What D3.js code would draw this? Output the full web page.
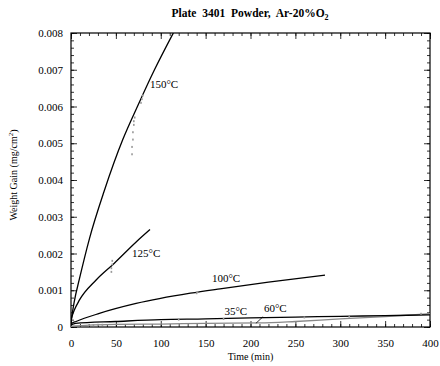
<!DOCTYPE html>
<html>
<head>
<meta charset="utf-8">
<script src="https://cdn.jsdelivr.net/npm/d3@7"></script>
<style>
  body{margin:0;background:#fff;}
  text{font-family:"Liberation Serif","DejaVu Serif",serif;fill:#000;}
</style>
</head>
<body>
<div id="chart-area"></div>
<script>
// fitted curves (time in min, weight gain in mg/cm2)
const c150=[[0,0.0001],[1,0.0003],[3.7,0.0007],[9.3,0.0013],[20.5,0.0024],[37,0.0037],[57.7,0.0051],[74,0.006],[93,0.007],[114,0.008]];
const c125=[[0,0.0002],[1,0.00028],[3.7,0.00046],[9.3,0.00073],[28,0.00128],[48,0.00173],[72,0.0023],[88,0.00265]];
const c100=[[0,0.00005],[1,0.0001],[5.6,0.00015],[31.6,0.00037],[72.6,0.00064],[133,0.00092],[166,0.00104],[220,0.00122],[283,0.00141]];
const c35=[[0,0.00006],[5,0.0001],[50,0.00015],[100,0.0002],[150,0.00022],[200,0.00025],[250,0.00027],[300,0.00029],[350,0.00031],[400,0.00033]];
const c60=[[0,0.00002],[20,0.00005],[50,0.00007],[100,0.00008],[150,0.0001],[210,0.00011],[250,0.00015],[300,0.00022],[350,0.00028],[400,0.00036]];

// scattered raw readings (grey)
const raw150=[[68,0.0047],[68,0.0049],[69,0.0051],[69,0.0053],[70,0.0055],[70,0.0056],[71,0.0057],[78,0.0061],[79,0.0062],[80,0.0063]];
const raw125=[[45,0.0015],[45,0.0016],[46,0.0017],[46,0.0018]];
const raw100=[[140,0.00092],[141,0.00095]];
const rawLow=[[20,0.00005],[25,0.00005],[30,0.00006],[35,0.00006],[120,0.0002],[170,0.00022],[260,0.00026],[310,0.00028],[390,0.00036]];

const xTicks=[0,50,100,150,200,250,300,350,400];
const yTicks=[0,0.001,0.002,0.003,0.004,0.005,0.006,0.007,0.008];

const labels=[
  {t:'150°C',d:[88,0.0065]},
  {t:'125°C',d:[68,0.0019]},
  {t:'100°C',d:[157,0.00122]},
  {t:'35°C',d:[171,0.00033]},
  {t:'60°C',d:[215,0.00041]}
];

const W=440,H=366;
const margin={left:71,right:10,top:33,bottom:39};
const width=W-margin.left-margin.right;
const height=H-margin.top-margin.bottom;

const svg=d3.select('#chart-area').append('svg')
    .attr('width',W)
    .attr('height',H);

const g=svg.append('g')
    .attr('transform','translate('+margin.left+','+margin.top+')');

const x=d3.scaleLinear().domain([0,400]).range([0,width]);
const y=d3.scaleLinear().domain([0,0.008]).range([height,0]);

g.append('clipPath').attr('id','clip')
  .append('rect').attr('width',width).attr('height',height);

// axes: inward ticks on all four sides
const fmtY=d=>d===0?'0':d3.format('.3f')(d);
const xMinor=d3.range(0,401,10);
const yMinor=d3.range(0,0.00801,0.0002);

function tickLines(axis){ return axis.tickSizeOuter(0); }

g.append('g').attr('transform','translate(0,'+height+')')
  .call(tickLines(d3.axisBottom(x).tickValues(xTicks).tickSize(-6).tickPadding(12).tickFormat(d3.format('d'))));
g.append('g').attr('transform','translate(0,'+height+')')
  .call(tickLines(d3.axisBottom(x).tickValues(xMinor).tickSize(-3).tickFormat('')));
g.append('g').call(tickLines(d3.axisTop(x).tickValues(xTicks).tickSize(-6).tickFormat('')));
g.append('g').call(tickLines(d3.axisTop(x).tickValues(xMinor).tickSize(-3).tickFormat('')));

g.append('g').call(tickLines(d3.axisLeft(y).tickValues(yTicks).tickSize(-6).tickPadding(8).tickFormat(fmtY)));
g.append('g').call(tickLines(d3.axisLeft(y).tickValues(yMinor).tickSize(-3).tickFormat('')));
g.append('g').attr('transform','translate('+width+',0)')
  .call(tickLines(d3.axisRight(y).tickValues(yTicks).tickSize(-6).tickFormat('')));
g.append('g').attr('transform','translate('+width+',0)')
  .call(tickLines(d3.axisRight(y).tickValues(yMinor).tickSize(-3).tickFormat('')));

g.selectAll('.domain').remove();
g.selectAll('.tick line').attr('stroke','#000').attr('stroke-width',0.8);
g.selectAll('.tick text').attr('font-size','11px').attr('font-family','"Liberation Serif",serif');

g.append('rect').attr('width',width).attr('height',height)
  .attr('fill','none').attr('stroke','#000').attr('stroke-width',1.2);

// curves
const line=d3.line().x(d=>x(d[0])).y(d=>y(d[1])).curve(d3.curveMonotoneX);
const plot=g.append('g').attr('clip-path','url(#clip)');

plot.append('path').datum(c60).attr('d',line).attr('fill','none')
  .attr('stroke','#888').attr('stroke-width',1.3);
[c150,c125,c100,c35].forEach(c=>{
  plot.append('path').datum(c).attr('d',line).attr('fill','none')
    .attr('stroke','#000').attr('stroke-width',1.3);
});

// raw readings
plot.selectAll('.raw').data(raw150.concat(raw125,raw100,rawLow)).enter()
  .append('rect').attr('class','raw')
  .attr('x',d=>x(d[0])-0.8).attr('y',d=>y(d[1])-1)
  .attr('width',1.6).attr('height',2)
  .attr('fill','#999');

// curve labels
g.selectAll('.clab').data(labels).enter().append('text')
  .attr('class','clab')
  .attr('x',d=>x(d.d[0])).attr('y',d=>y(d.d[1]))
  .attr('font-size','11px')
  .text(d=>d.t);

// leader for 60°C
g.append('line')
  .attr('x1',x(214)).attr('y1',y(0.00028))
  .attr('x2',x(206)).attr('y2',y(0.0001))
  .attr('stroke','#000').attr('stroke-width',0.8);

// titles
svg.append('text')
  .attr('x',250).attr('y',17)
  .attr('text-anchor','middle')
  .attr('font-size','11.5px').attr('font-weight','bold')
  .attr('word-spacing','3px')
  .html('Plate 3401 Powder, Ar-20%O<tspan font-size="8px" dy="3">2</tspan>');

svg.append('text')
  .attr('x',margin.left+width/2).attr('y',360)
  .attr('text-anchor','middle')
  .attr('font-size','10px')
  .text('Time (min)');

svg.append('text')
  .attr('transform','translate(17,'+(margin.top+height/2-5)+') rotate(-90)')
  .attr('text-anchor','middle')
  .attr('font-size','10px')
  .html('Weight Gain (mg/cm<tspan font-size="7px" dy="-4">2</tspan><tspan dy="4">)</tspan>');
</script>
</body>
</html>
